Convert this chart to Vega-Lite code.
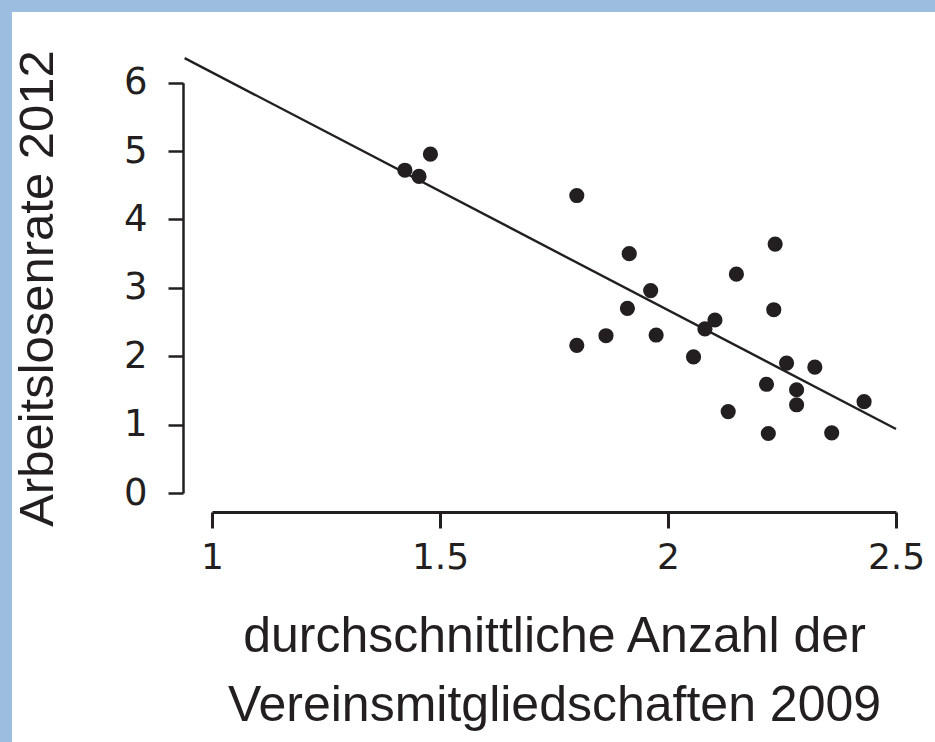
{
  "$schema": "https://vega.github.io/schema/vega-lite/v6.json",
  "padding": 0,
  "background": "white",
  "config": {
    "font": "Liberation Sans",
    "view": {"stroke": null},
    "axis": {"grid": false, "titleFontWeight": "normal", "labelColor": "#231f20", "titleColor": "#231f20", "domainColor": "#231f20", "tickColor": "#231f20", "labelFont": "DejaVu Sans"}
  },
  "spacing": 0,
  "vconcat": [
    {
      "width": 935,
      "height": 12,
      "view": {"fill": "#9cbde0", "stroke": null},
      "data": {"values": []},
      "mark": "rect",
      "encoding": {}
    },
    {
      "spacing": 0,
      "hconcat": [
        {
          "width": 12,
          "height": 730,
          "view": {"fill": "#9cbde0", "stroke": null},
          "data": {"values": []},
          "mark": "rect",
          "encoding": {}
        },
        {
          "width": 684,
          "height": 481,
          "layer": [
            {
              "data": {"values": [{"x": 0.94, "y": 6.36}, {"x": 2.5, "y": 0.936}]},
              "mark": {"type": "line", "clip": false, "color": "#231f20", "strokeWidth": 2.4},
              "encoding": {
                "x": {"field": "x", "type": "quantitative"},
                "y": {"field": "y", "type": "quantitative"}
              }
            },
            {
              "data": {"values": [
                {"x": 1.423, "y": 4.72},
                {"x": 1.454, "y": 4.63},
                {"x": 1.479, "y": 4.955},
                {"x": 1.8, "y": 4.35},
                {"x": 1.8, "y": 2.16},
                {"x": 1.864, "y": 2.3},
                {"x": 1.915, "y": 3.5},
                {"x": 1.962, "y": 2.96},
                {"x": 1.911, "y": 2.7},
                {"x": 1.974, "y": 2.31},
                {"x": 2.056, "y": 1.99},
                {"x": 2.081, "y": 2.4},
                {"x": 2.103, "y": 2.53},
                {"x": 2.15, "y": 3.2},
                {"x": 2.235, "y": 3.64},
                {"x": 2.232, "y": 2.68},
                {"x": 2.26, "y": 1.9},
                {"x": 2.322, "y": 1.84},
                {"x": 2.216, "y": 1.59},
                {"x": 2.282, "y": 1.51},
                {"x": 2.282, "y": 1.29},
                {"x": 2.43, "y": 1.335},
                {"x": 2.132, "y": 1.19},
                {"x": 2.22, "y": 0.87},
                {"x": 2.359, "y": 0.88}
              ]},
              "mark": {"type": "circle", "size": 230, "opacity": 1, "color": "#231f20"},
              "encoding": {
                "x": {
                  "field": "x", "type": "quantitative",
                  "scale": {"domain": [1, 2.5], "nice": false, "zero": false},
                  "axis": {
                    "values": [1, 1.5, 2, 2.5],
                    "labelExpr": "'' + datum.value",
                    "offset": 19,
                    "tickSize": 16,
                    "tickWidth": 3,
                    "domainWidth": 3,
                    "labelFontSize": 36,
                    "labelBaseline": "alphabetic",
                    "labelPadding": 40,
                    "labelFlush": false,
                    "labelOverlap": false,
                    "title": ["durchschnittliche Anzahl der", "Vereinsmitgliedschaften 2009"],
                    "titleFontSize": 50,
                    "titleLineHeight": 69,
                    "titleX": 342,
                    "titleY": 139,
                    "titleBaseline": "alphabetic",
                    "titleAlign": "center"
                  }
                },
                "y": {
                  "field": "y", "type": "quantitative",
                  "scale": {"domain": [0, 6], "nice": false, "zero": false, "range": [481, 70.7]},
                  "axis": {
                    "values": [0, 1, 2, 3, 4, 5, 6],
                    "labelExpr": "'' + datum.value",
                    "offset": 29,
                    "tickSize": 15,
                    "tickWidth": 2.5,
                    "domainWidth": 2.5,
                    "labelFontSize": 37,
                    "labelPadding": 21,
                    "title": "Arbeitslosenrate 2012",
                    "titleFontSize": 49,
                    "titleAngle": -90,
                    "titleX": -131,
                    "titleY": 276,
                    "titleBaseline": "alphabetic",
                    "titleAlign": "center"
                  }
                }
              }
            }
          ]
        }
      ]
    }
  ]
}
